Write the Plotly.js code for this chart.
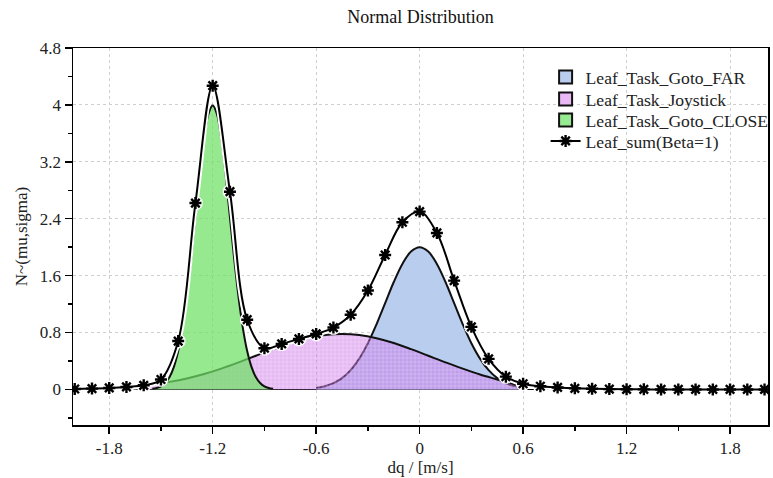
<!DOCTYPE html>
<html>
<head>
<meta charset="utf-8">
<script src="https://cdn.plot.ly/plotly-3.0.1.min.js"></script>
<style>html,body{margin:0;padding:0;background:#fff}#chart{width:773px;height:478px}</style>
</head>
<body>
<div id="chart"></div>
<script>
// ---- data ----
const farX = [-0.6,-0.55,-0.5,-0.45,-0.4,-0.35,-0.3,-0.25,-0.2,-0.15,-0.1,-0.05,0,0.05,0.1,0.15,0.2,0.25,0.3,0.35,0.4,0.45,0.5,0.55,0.6];
const farY = [0.022,0.046,0.088,0.159,0.271,0.433,0.649,0.916,1.213,1.510,1.765,1.938,2.0,1.938,1.765,1.510,1.213,0.916,0.649,0.433,0.271,0.159,0.088,0.046,0.022];

const joyX = [-1.6,-1.55,-1.45,-1.35,-1.25,-1.15,-1.05,-0.95,-0.85,-0.75,-0.65,-0.55,-0.45,-0.35,-0.25,-0.15,-0.05,0.05,0.15,0.25,0.35,0.45,0.55,0.6];
const joyY = [0.05,0.069,0.106,0.154,0.217,0.293,0.380,0.473,0.566,0.652,0.720,0.765,0.78,0.765,0.720,0.652,0.566,0.473,0.380,0.293,0.21,0.14,0.07,0.03];

const closeX = [-1.55,-1.525,-1.5,-1.475,-1.45,-1.425,-1.4,-1.375,-1.35,-1.325,-1.3,-1.275,-1.25,-1.225,-1.2,-1.175,-1.15,-1.125,-1.1,-1.075,-1.05,-1.025,-1.0,-0.975,-0.95,-0.925,-0.9,-0.875,-0.85];
const closeY = [0.009,0.020,0.044,0.091,0.175,0.318,0.540,0.863,1.296,1.827,2.420,3.012,3.521,3.867,3.99,3.867,3.521,3.012,2.420,1.827,1.296,0.863,0.540,0.318,0.175,0.091,0.044,0.020,0.009];

const sumX = [-2.0,-1.9,-1.8,-1.7,-1.6,-1.5,-1.4,-1.3,-1.2,-1.1,-1.0,-0.9,-0.8,-0.7,-0.6,-0.5,-0.4,-0.3,-0.2,-0.1,0,0.1,0.2,0.3,0.4,0.5,0.6,0.7,0.8,0.9,1.0,1.1,1.2,1.3,1.4,1.5,1.6,1.7,1.8,1.9,2.0];
const sumY = [0.006,0.012,0.021,0.035,0.058,0.14,0.68,2.62,4.27,2.78,0.98,0.58,0.64,0.71,0.78,0.87,1.05,1.39,1.89,2.35,2.50,2.20,1.53,0.88,0.43,0.18,0.08,0.045,0.028,0.016,0.009,0.005,0.002,0.001,0,0,0,0,0,0,0];

const seriesNames = ['Leaf_Task_Goto_FAR','Leaf_Task_Joystick','Leaf_Task_Goto_CLOSE','Leaf_sum(Beta=1)'];
const xTickVals = [-1.8,-1.2,-0.6,0,0.6,1.2,1.8];
const xTickText = ['-1.8','-1.2','-0.6','0','0.6','1.2','1.8'];
const yTickVals = [0,0.8,1.6,2.4,3.2,4,4.8];
const yTickText = ['0','0.8','1.6','2.4','3.2','4','4.8'];

// ---- styles ----
const FONT = '"Liberation Serif"';
const farFill = 'rgb(185,205,238)';
const joyFill = 'rgba(200,100,230,0.45)';
const closeFill = 'rgba(110,225,100,0.72)';

const traces = [
  {x: farX, y: farY, type: 'scatter', mode: 'lines', fill: 'tozeroy', fillcolor: farFill,
   line: {color: '#111', width: 2, shape: 'spline'}, showlegend: false, hoverinfo: 'skip'},
  {x: joyX, y: joyY, type: 'scatter', mode: 'lines', fill: 'tozeroy', fillcolor: joyFill,
   fillpattern: {shape: '+', size: 4, solidity: 0.25, fgcolor: 'rgba(255,255,255,0.45)', bgcolor: joyFill},
   line: {color: '#111', width: 2, shape: 'spline'}, showlegend: false, hoverinfo: 'skip'},
  {x: closeX, y: closeY, type: 'scatter', mode: 'lines', fill: 'tozeroy', fillcolor: closeFill,
   line: {color: '#111', width: 2, shape: 'spline'}, showlegend: false, hoverinfo: 'skip'},
  // sum: white casing
  {x: sumX, y: sumY, type: 'scatter', mode: 'lines+markers',
   line: {color: '#fff', width: 6, shape: 'spline'},
   marker: {symbol: 'asterisk-open', size: 12, line: {color: '#fff', width: 5}},
   showlegend: false, hoverinfo: 'skip'},
  // legend entries
  {x: [null], y: [null], type: 'scatter', mode: 'markers', name: seriesNames[0], legend: 'legend',
   marker: {symbol: 'square', size: 13, color: farFill, line: {color: '#111', width: 2}}},
  {x: [null], y: [null], type: 'scatter', mode: 'markers', name: seriesNames[1], legend: 'legend2',
   marker: {symbol: 'square', size: 13, color: 'rgb(232,185,244)', line: {color: '#111', width: 2}}},
  {x: [null], y: [null], type: 'scatter', mode: 'markers', name: seriesNames[2], legend: 'legend3',
   marker: {symbol: 'square', size: 13, color: 'rgb(150,234,146)', line: {color: '#111', width: 2}}},
  {x: sumX, y: sumY, type: 'scatter', mode: 'lines+markers', name: seriesNames[3], legend: 'legend4',
   line: {color: '#000', width: 2, shape: 'spline'},
   marker: {symbol: 'asterisk-open', size: 10, line: {color: '#000', width: 2.4}}}
];

const axisCommon = {
  showline: true, linecolor: '#000', linewidth: 1.5, mirror: true,
  ticks: 'outside', ticklen: 7, tickwidth: 1.5, tickcolor: '#000',
  showgrid: true, gridcolor: '#cfcfcf', griddash: 'dot', gridwidth: 1,
  tickfont: {family: FONT, size: 17, color: '#222'},
  zeroline: false
};

function legendAt(yPaper) {
  return {x: 0.68, y: yPaper, xanchor: 'left', yanchor: 'middle', bgcolor: 'rgba(0,0,0,0)',
          font: {family: FONT, size: 17.6, color: '#222'}};
}

const layout = {
  width: 773, height: 478,
  margin: {l: 73, r: 5, t: 48, b: 53, autoexpand: false},
  paper_bgcolor: '#fff', plot_bgcolor: '#fff',
  title: {text: 'Normal Distribution', font: {family: FONT, size: 18, color: '#111'},
          x: 0.5, xref: 'paper', y: 1 - 17/478, yref: 'container', yanchor: 'middle'},
  xaxis: Object.assign({}, axisCommon, {
    range: [-2.01, 2.02], tickmode: 'array', tickvals: xTickVals, ticktext: xTickText,
    minor: {dtick: 0.3, tick0: 0, ticks: 'outside', ticklen: 4, tickwidth: 1.5, tickcolor: '#000', showgrid: false},
    title: {text: 'dq / [m/s]', font: {family: FONT, size: 17, color: '#222'}, standoff: 0}
  }),
  yaxis: Object.assign({}, axisCommon, {
    range: [-0.5, 4.8], tickmode: 'array', tickvals: yTickVals, ticktext: yTickText,
    zeroline: true, zerolinecolor: '#000', zerolinewidth: 1.5,
    minor: {dtick: 0.4, tick0: 0, ticks: 'outside', ticklen: 4, tickwidth: 1.5, tickcolor: '#000', showgrid: false},
    title: {text: 'N~(mu,sigma)', font: {family: FONT, size: 17, color: '#222'}, standoff: 8}
  }),
  legend: legendAt((425 - 77) / 377),
  legend2: legendAt((425 - 99) / 377),
  legend3: legendAt((425 - 120) / 377),
  legend4: legendAt((425 - 141) / 377),
  showlegend: true
};

Plotly.newPlot('chart', traces, layout, {staticPlot: true, displayModeBar: false});
</script>
</body>
</html>
